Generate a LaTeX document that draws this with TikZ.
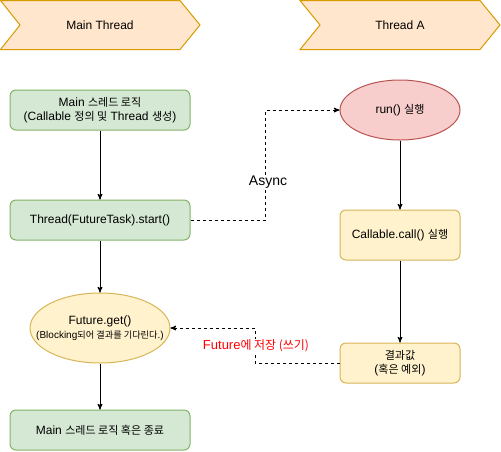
\documentclass[tikz,border=0pt]{standalone}
\usepackage{fontspec}
\usepackage{xcolor}
\setmainfont{Liberation Sans}
\newfontfamily\krfont{Noto Sans CJK KR}[Scale=0.92]
\newcommand{\kr}[1]{{\krfont #1}}
\usepackage{tikz}
\usetikzlibrary{
	arrows,shapes,positioning
}
\definecolor{greenfill}{HTML}{D5E8D4}
\definecolor{greenline}{HTML}{82B366}
\definecolor{yellowfill}{HTML}{FFF2CC}
\definecolor{yellowline}{HTML}{D6B656}
\definecolor{redfill}{HTML}{F8CECC}
\definecolor{redline}{HTML}{B85450}
\definecolor{lanefill}{HTML}{FFE6CC}
\definecolor{laneline}{HTML}{D79B00}
\tikzset{
	box/.style={draw, rounded corners=6pt, line width=1pt, align=center,
		inner sep=0pt, font=\fontsize{12}{14.4}\selectfont},
	greenbox/.style={box, fill=greenfill, draw=greenline,
		minimum width=180pt, minimum height=40pt},
	yellowbox/.style={box, fill=yellowfill, draw=yellowline},
	oval/.style={ellipse, draw, line width=1pt, align=center, inner sep=0pt,
		font=\fontsize{12}{14.4}\selectfont},
	lane/.style={draw=laneline, fill=lanefill, line width=1pt},
	lanetext/.style={font=\fontsize{12}{14.4}\selectfont},
	flow/.style={->, >=stealth', line width=1pt},
	async/.style={flow, dash pattern=on 3pt off 3pt},
	tag/.style={fill=white, inner sep=1pt},
}
\begin{document}
\begin{tikzpicture}[x=1pt,y=-1pt]
		\useasboundingbox (0,0) rectangle (501,451);
		% lanes
		\draw[lane] (0.5,0.5) -- (180,0.5) -- (200,25) -- (180,49.5) -- (0.5,49.5) -- (20,25) -- cycle;
		\draw[lane] (300,0.5) -- (480,0.5) -- (500,25) -- (480,49.5) -- (300,49.5) -- (320,25) -- cycle;
		\node[lanetext] (L1) at (100,25) {Main Thread};
		\node[lanetext] (L2) at (400,25) {Thread A};
		%
		\node[greenbox] (M1) at (100,110) {Main \kr{스레드 로직}\\(Callable \kr{정의 및} Thread \kr{생성})};
		\node[greenbox] (M2) at (100,220) {Thread(FutureTask).start()};
		\node[oval, fill=yellowfill, draw=yellowline, inner xsep=-20pt,
			minimum width=140pt, minimum height=70pt] (M3) at (100,328)
			{Future.get()\\[-1pt]{\fontsize{10}{12}\selectfont (Blocking\kr{되어 결과를 기다린다}.)}};
		\node[greenbox] (M4) at (100,430) {Main \kr{스레드 로직 혹은 종료}};
		%
		\node[oval, fill=redfill, draw=redline, minimum width=120pt, minimum height=60pt] (A1) at (400,110) {run() \kr{실행}};
		\node[yellowbox, minimum width=120pt, minimum height=50pt] (A2) at (400,235) {Callable.call() \kr{실행}};
		\node[yellowbox, minimum width=120pt, minimum height=40pt] (A3) at (400,363) {\kr{결과값}\\(\kr{혹은 예외})};
		%
		\coordinate (K1) at (265,220);
		\coordinate (K2) at (255,363);
		%
		\path[flow]
		% main thread
		(M1) edge (M2)
		(M2) edge (M3)
		(M3) edge (M4)
		% thread A
		(A1) edge (A2)
		(A2) edge (A3);
		% async arrows
		\draw[async] (M2.east) -- (K1) |- (A1.west);
		\draw[async] (A3.west) -- (K2) |- (M3.east);
		\node[tag, font=\fontsize{14}{16}\selectfont] (T1) at (268,182) {Async};
		\node[tag, font=\fontsize{13}{15}\selectfont, text=red] (T2) at (256,346) {Future\kr{에 저장 (쓰기)}};
	\end{tikzpicture}
\end{document}
